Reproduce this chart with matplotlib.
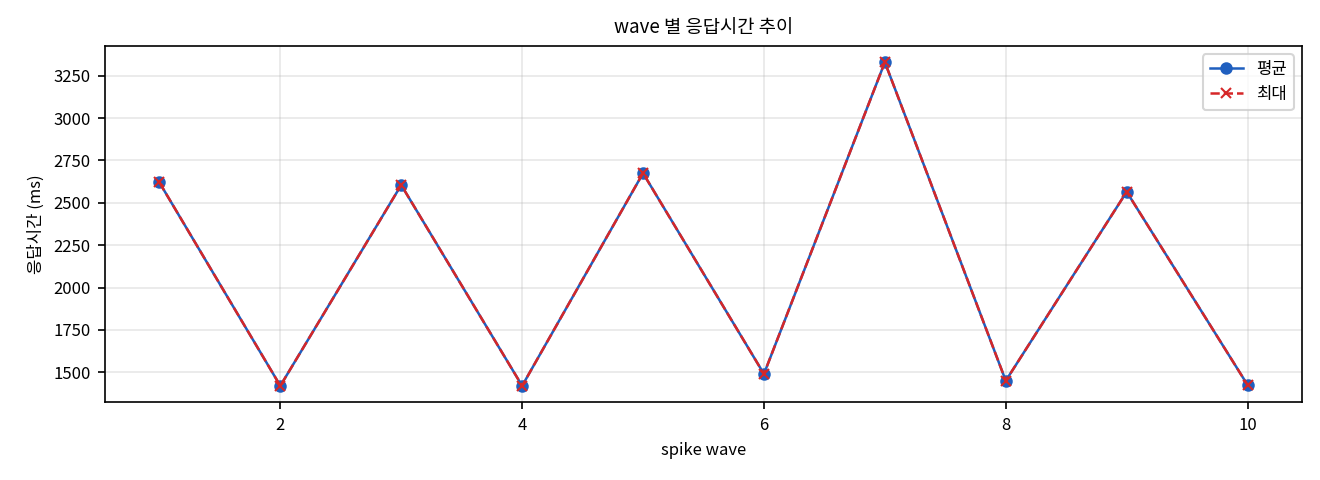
import matplotlib
matplotlib.use("Agg")
import matplotlib.pyplot as plt

plt.rcParams['font.family'] = ['Noto Sans CJK KR', 'DejaVu Sans']

waves = [1, 2, 3, 4, 5, 6, 7, 8, 9, 10]
avg_ms = [2620, 1420, 2605, 1420, 2675, 1490, 3330, 1450, 2565, 1425]
max_ms = [2620, 1420, 2605, 1420, 2675, 1490, 3330, 1450, 2565, 1425]

fig = plt.figure(figsize=(8.8, 3.2), dpi=150)
ax = fig.add_axes([105 / 1320, 78 / 480, 1197 / 1320, 356 / 480])
ax.plot(waves, avg_ms, marker="o", color="#1f5fbf", linewidth=1.2, markersize=5, label="평균")
ax.plot(waves, max_ms, marker="x", linestyle="--", color="#d62728", linewidth=1.2, markersize=5, label="최대")
ax.set_title("wave 별 응답시간 추이", fontsize=9)
ax.set_xlabel("spike wave", fontsize=8)
ax.set_ylabel("응답시간 (ms)", fontsize=8)
ax.tick_params(labelsize=8)
ax.grid(True, alpha=0.3)
ax.legend(fontsize=8, loc="upper right")
fig.savefig("out.png", dpi=150)
